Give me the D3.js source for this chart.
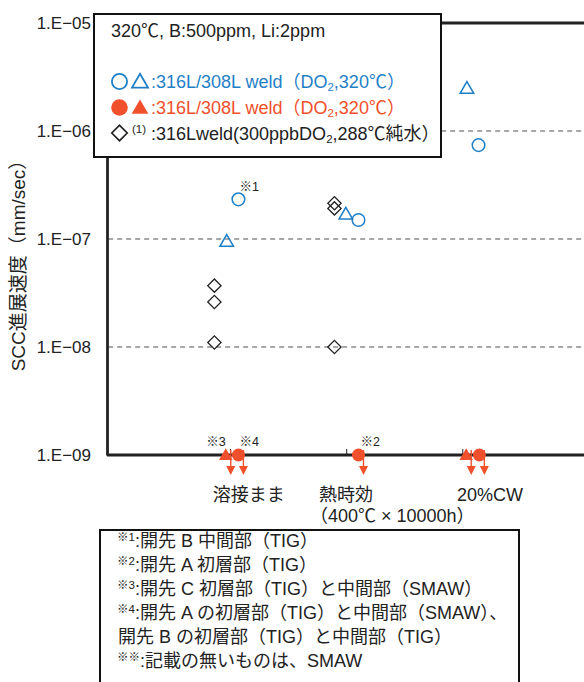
<!DOCTYPE html>
<html><head><meta charset="utf-8">
<script src="https://cdn.jsdelivr.net/npm/d3@7"></script>
<style>
body{margin:0;background:#fff}
svg{display:block}
text{font-family:"Liberation Sans","Noto Sans CJK JP",sans-serif;fill:#222}
</style>
</head><body><svg id="c" width="584" height="682"></svg>
<script>
// ---------- data ----------
const categories = ["溶接まま", "熱時効", "20%CW"];
const categoryPos = [0.85, 1.765, 2.955];
const subCategory = "（400℃ × 10000h）";
const categoryTicks = [1, 2, 3];
const yTicks = [1e-9, 1e-8, 1e-7, 1e-6, 1e-5];
const yTickLabels = ["1.E−09", "1.E−08", "1.E−07", "1.E−06", "1.E−05"];
const gridValues = [1e-8, 1e-7, 1e-6];
const yTitle = "SCC進展速度（mm/sec）";

// open blue: 316L/308L weld (DO2,320℃)
const blueCircleX = [1.072, 2.106, 3.14];
const blueCircleV = [2.33e-7, 1.50e-7, 7.4e-7];
const blueTriX = [0.971, 1.997, 3.04];
const blueTriV = [9.5e-8, 1.70e-7, 2.48e-6];
// filled red: below detection (1E-09, arrow down)
const redCircleX = [1.072, 2.106, 3.147];
const redCircleV = [1e-9, 1e-9, 1e-9];
const redTriX = [0.963, 3.034];
const redTriV = [1e-9, 1e-9];
// diamonds: 316Lweld (300ppbDO2, 288℃ pure water)
const diamondX = [0.865, 0.865, 0.865, 1.899, 1.899, 1.899];
const diamondV = [3.70e-8, 2.61e-8, 1.10e-8, 2.14e-7, 1.92e-7, 1.0e-8];

// point notes
const noteText = ["※1", "※3", "※4", "※2"];
const noteX = [1.072, 0.963, 1.072, 2.106];
const noteV = [2.33e-7, 1e-9, 1e-9, 1e-9];

const legendTitle = "320℃, B:500ppm, Li:2ppm";
const footMarks = ["※1", "※2", "※3", "※4", "", "※※"];
const footTexts = [":開先 B 中間部（TIG）", ":開先 A 初層部（TIG）", ":開先 C 初層部（TIG）と中間部（SMAW）",
  ":開先 A の初層部（TIG）と中間部（SMAW）、", "開先 B の初層部（TIG）と中間部（TIG）", ":記載の無いものは、SMAW"];

// ---------- drawing ----------
const blue = "#1f7fc7", red = "#f0502b";
const svg = d3.select("#c");
const x = d3.scaleLinear().domain([-0.06, 4.1]).range([107, 590]);
const y = d3.scaleLog().domain([1e-9, 1e-5]).range([455, 23]);

// grid
svg.append("g").selectAll("line").data(gridValues).join("line")
  .attr("x1", x(-0.05)).attr("x2", 584).attr("y1", d => y(d)).attr("y2", d => y(d))
  .attr("stroke", "#8a8a8a").attr("stroke-width", 1.3).attr("stroke-dasharray", "5,4");

// top frame line
svg.append("line").attr("x1", x(-0.06)).attr("x2", 590).attr("y1", y(1e-5)).attr("y2", y(1e-5))
  .attr("stroke", "#222").attr("stroke-width", 2.8);

// left axis
const ya = svg.append("g").attr("transform", `translate(${x(-0.06)},0)`)
  .call(d3.axisLeft(y).tickValues(yTicks).tickFormat((d, i) => yTickLabels[i]).tickSize(0).tickPadding(16));
ya.select(".domain").attr("stroke", "#222").attr("stroke-width", 2.8);
ya.selectAll("text").attr("font-size", 17).attr("fill", "#222")
  .style("font-family", '"Liberation Sans","Noto Sans CJK JP",sans-serif');

// bottom axis
const xa = svg.append("g").attr("transform", `translate(0,${y(1e-9)})`)
  .call(d3.axisBottom(x).tickValues(categoryTicks).tickSize(-6).tickFormat(""));
xa.select(".domain").attr("stroke", "#222").attr("stroke-width", 2.8).attr("d", `M${x(-0.06)},0H590`);
xa.selectAll(".tick line").attr("stroke", "#222").attr("stroke-width", 1);

// y title
svg.append("text").attr("transform", `translate(25,${261}) rotate(-90)`)
  .attr("text-anchor", "middle").attr("font-size", 19).text(yTitle);

// category labels
svg.append("g").selectAll("text").data(categories).join("text")
  .attr("x", (d, i) => x(categoryPos[i])).attr("y", 501)
  .attr("font-size", 18).text(d => d);
svg.append("text").attr("x", x(categoryPos[1]) - 9).attr("y", 522).attr("font-size", 18).text(subCategory);

const sym = (type, size) => d3.symbol().type(type).size(size)();

// diamonds
svg.append("g").selectAll("path").data(diamondX).join("path")
  .attr("transform", (d, i) => `translate(${x(d)},${y(diamondV[i])}) rotate(45)`)
  .attr("d", d3.symbol().type(d3.symbolSquare).size(88)())
  .attr("fill", "none").attr("stroke", "#222").attr("stroke-width", 1.3);

// blue open triangles
svg.append("g").selectAll("path").data(blueTriX).join("path")
  .attr("transform", (d, i) => `translate(${x(d)},${y(blueTriV[i]) + 1})`)
  .attr("d", sym(d3.symbolTriangle, 80))
  .attr("fill", "none").attr("stroke", blue).attr("stroke-width", 1.5);
// blue open circles
svg.append("g").selectAll("circle").data(blueCircleX).join("circle")
  .attr("cx", d => x(d)).attr("cy", (d, i) => y(blueCircleV[i])).attr("r", 6.3)
  .attr("fill", "none").attr("stroke", blue).attr("stroke-width", 1.5);

// red arrows (below 1E-09)
const arrows = redTriX.map((d, i) => [d, redTriV[i]]).concat(redCircleX.map((d, i) => [d, redCircleV[i]]));
const ag = svg.append("g");
arrows.forEach(([px, v]) => {
  const ax = x(px) + 5, y0 = y(v);
  ag.append("line").attr("x1", ax).attr("x2", ax).attr("y1", y0 - 5).attr("y2", y0 + 12)
    .attr("stroke", red).attr("stroke-width", 1.4);
  ag.append("path").attr("d", `M${ax - 4.5},${y0 + 11}L${ax + 4.5},${y0 + 11}L${ax},${y0 + 20}Z`).attr("fill", red);
});
// red filled triangles
svg.append("g").selectAll("path").data(redTriX).join("path")
  .attr("transform", (d, i) => `translate(${x(d)},${y(redTriV[i]) + 1})`)
  .attr("d", sym(d3.symbolTriangle, 80)).attr("fill", red);
// red filled circles
svg.append("g").selectAll("circle").data(redCircleX).join("circle")
  .attr("cx", d => x(d)).attr("cy", (d, i) => y(redCircleV[i])).attr("r", 6.5).attr("fill", red);

// notes
const noteAnchor = ["start", "end", "start", "start"];
const noteDx = [1, 0, 1, 2];
const noteDy = [-8, -9, -9, -9];
svg.append("g").selectAll("text").data(noteText).join("text")
  .attr("x", (d, i) => x(noteX[i]) + noteDx[i]).attr("y", (d, i) => y(noteV[i]) + noteDy[i])
  .attr("text-anchor", (d, i) => noteAnchor[i]).attr("font-size", 12.5).attr("fill", "#333").text(d => d);

// legend
const lg = svg.append("g");
lg.append("rect").attr("x", 94).attr("y", 14).attr("width", 347).attr("height", 143)
  .attr("fill", "#fff").attr("stroke", "#111").attr("stroke-width", 2);
lg.append("text").attr("x", 111).attr("y", 37).attr("font-size", 18).text(legendTitle);
// row 2
lg.append("circle").attr("cx", 119.5).attr("cy", 81.5).attr("r", 7.6).attr("fill", "none").attr("stroke", blue).attr("stroke-width", 1.8);
lg.append("path").attr("transform", "translate(140,83)").attr("d", sym(d3.symbolTriangle, 110)).attr("fill", "none").attr("stroke", blue).attr("stroke-width", 1.8);
const t2 = lg.append("text").attr("x", 151).attr("y", 88).attr("font-size", 18).style("fill", blue);
t2.append("tspan").text(":316L/308L weld（DO");
t2.append("tspan").attr("font-size", 11.5).attr("dy", 3).text("2");
t2.append("tspan").attr("dy", -3).text(",320℃）");
// row 3
lg.append("circle").attr("cx", 119.5).attr("cy", 107.5).attr("r", 8.3).attr("fill", red);
lg.append("path").attr("transform", "translate(140,109)").attr("d", sym(d3.symbolTriangle, 120)).attr("fill", red);
const t3 = lg.append("text").attr("x", 151).attr("y", 114).attr("font-size", 18).style("fill", red);
t3.append("tspan").text(":316L/308L weld（DO");
t3.append("tspan").attr("font-size", 11.5).attr("dy", 3).text("2");
t3.append("tspan").attr("dy", -3).text(",320℃）");
// row 4
lg.append("path").attr("transform", "translate(119.5,133) rotate(45)").attr("d", sym(d3.symbolSquare, 120))
  .attr("fill", "none").attr("stroke", "#222").attr("stroke-width", 1.6);
lg.append("text").attr("x", 132).attr("y", 133).attr("font-size", 11.5).text("(1)");
const t4 = lg.append("text").attr("x", 151).attr("y", 140).attr("font-size", 18);
t4.append("tspan").text(":316Lweld(300ppbDO");
t4.append("tspan").attr("font-size", 11.5).attr("dy", 3).text("2");
t4.append("tspan").attr("dy", -3).text(",288℃純水）");

// footnote box
const fg = svg.append("g");
fg.append("rect").attr("x", 100).attr("y", 530).attr("width", 419).attr("height", 170)
  .attr("fill", "#fff").attr("stroke", "#111").attr("stroke-width", 2);
footTexts.forEach((t, i) => {
  const yy = 547 + i * 24;
  const tx = fg.append("text").attr("y", yy).attr("font-size", 18);
  if (footMarks[i]) {
    tx.attr("x", 117);
    tx.append("tspan").attr("font-size", 11.5).attr("dy", -6).text(footMarks[i]);
    tx.append("tspan").attr("dy", 6).text(t);
  } else {
    tx.attr("x", 118).text(t);
  }
});
</script>
</body></html>
